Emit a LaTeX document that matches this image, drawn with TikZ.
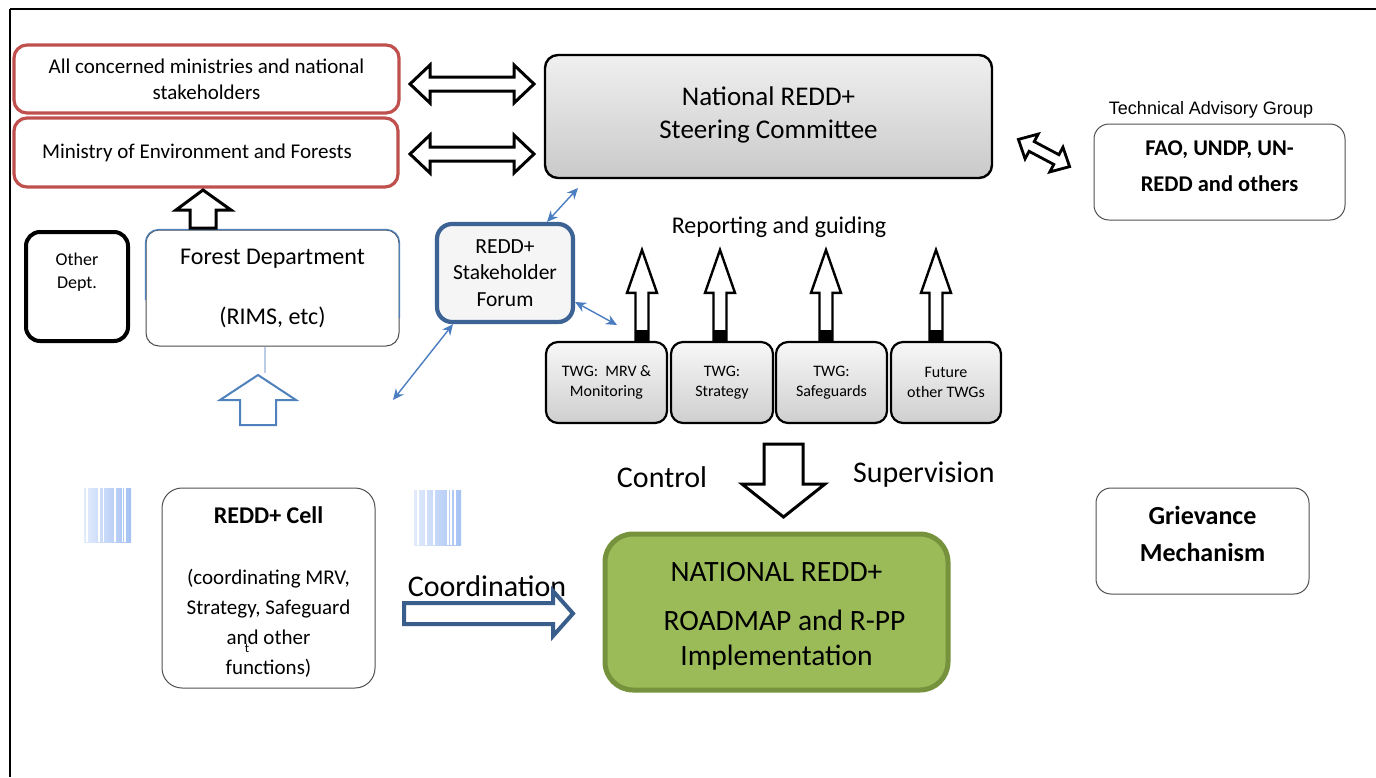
\documentclass[tikz,border=0pt]{standalone}
\usepackage{fontspec}
\setmainfont{Carlito}
\newfontfamily\arialfont{Liberation Sans}
\usetikzlibrary{arrows.meta}
\definecolor{redb}{RGB}{192,80,77}
\definecolor{forumb}{RGB}{60,99,148}
\definecolor{lblue}{RGB}{74,126,193}
\definecolor{fdblue}{RGB}{79,129,189}
\definecolor{gfill}{RGB}{155,187,89}
\definecolor{gdraw}{RGB}{118,146,60}
\definecolor{coordb}{RGB}{58,94,140}
\definecolor{paleblue}{RGB}{185,205,229}
\definecolor{stripeL}{RGB}{226,235,252}
\definecolor{stripeR}{RGB}{165,194,244}
\definecolor{boxgray}{RGB}{80,80,80}
\begin{document}
\begin{tikzpicture}[x=1pt,y=-1pt,
  every node/.style={inner sep=0pt, align=center},
  redbox/.style={draw=redb, line width=3.2pt, rounded corners=13pt, font=\fontsize{21}{26}\selectfont},
  graybox/.style={draw=black, line width=2.4pt, rounded corners=13pt, top color=gray!12, bottom color=gray!42},
  twgbox/.style={draw=black, line width=2.2pt, rounded corners=12pt, top color=gray!6, bottom color=gray!38, minimum height=81pt, font=\fontsize{16}{20}\selectfont},
  thinbox/.style={draw=boxgray, line width=1pt, rounded corners=15pt},
  hollow/.style={draw=black, fill=white, line width=3pt, line join=miter, miter limit=10},
  bluelink/.style={draw=lblue, line width=1.4pt, {Stealth[length=11pt,width=10pt]}-{Stealth[length=11pt,width=10pt]}},
  bigtxt/.style={font=\fontsize{30}{36}\selectfont},
  twgarrow/.pic={
    \draw[hollow, line width=2.4pt] (-6.5,0) -- (-6.5,-48) -- (-15,-48) -- (0,-91) -- (15,-48) -- (6.5,-48) -- (6.5,0) -- cycle;
    \fill[black] (-6.5,-11) rectangle (6.5,0);
  },
  dblarrow/.pic={
    \draw[hollow] (-62,0) -- (-42,-19) -- (-42,-7) -- (42,-7) -- (42,-19) -- (62,0) -- (42,19) -- (42,7) -- (-42,7) -- (-42,19) -- cycle;
  }
]
\useasboundingbox (0,0) rectangle (1376,777);
\fill[white] (0,0) rectangle (1376,777);
% frame
\draw[line width=2.2pt] (10,9) -- (1376,9);
\draw[line width=2.2pt] (10,9) -- (10,777);

% left column
\node[redbox, minimum width=385pt, minimum height=68pt] (allmin) at (206.5,79) {All concerned ministries and national\\stakeholders};
\node[redbox, minimum width=384pt, minimum height=69pt] (moef) at (206,152.5) {Ministry of Environment and Forests\hspace*{18pt}};

\node[draw=black, line width=4pt, rounded corners=14pt, minimum width=102pt, minimum height=109pt, font=\fontsize{18}{23}\selectfont, text depth=32pt] (other) at (77,286.5) {Other\\Dept.};

\node[draw=black!70, line width=1pt, rounded corners=13pt, minimum width=253pt, minimum height=116pt, font=\fontsize{24}{26}\selectfont] (fd) at (272.5,288) {Forest Department\\[34pt](RIMS, etc)};
\draw[fdblue, line width=1.2pt, rounded corners=13pt] ([yshift=-12pt]fd.west) -- (fd.north west) -- (fd.north east) -- ([yshift=-30pt]fd.east);
\draw[paleblue, line width=1.5pt] ([xshift=-7.5pt]fd.south) -- ++(0,26);

% block arrows on the left
\draw[hollow] (190,228) -- (190,210) -- (176,210) -- (203,190) -- (231,210) -- (216,210) -- (216,228) -- cycle;
\draw[hollow, draw=fdblue, line width=2pt] (240,425) -- (240,400) -- (220,400) -- (258,375) -- (296,400) -- (276,400) -- (276,425) -- cycle;
\pic at (472,84) {dblarrow};
\pic at (472,154) {dblarrow};

% steering committee
\node[graybox, minimum width=447pt, minimum height=123pt, font=\fontsize{27}{33}\selectfont, text depth=8pt] (steer) at (768.5,116.5) {National REDD+\\Steering Committee};

% technical advisory group
\node[font=\arialfont\fontsize{18}{22}\selectfont] (taglbl) at (1211,110) {Technical Advisory Group};
\node[thinbox, minimum width=251pt, minimum height=96pt, font=\bfseries\fontsize{22.5}{36}\selectfont, text depth=12pt] (tag) at (1219.5,172) {FAO, UNDP, UN-\\REDD and others};
\begin{scope}[shift={(1044,153)}, rotate=-28]
  \draw[hollow, line width=2.8pt] (-29,0) -- (-14,-14) -- (-14,-5.5) -- (14,-5.5) -- (14,-14) -- (29,0) -- (14,14) -- (14,5.5) -- (-14,5.5) -- (-14,14) -- cycle;
\end{scope}

% forum
\node[draw=forumb, fill=gray!8, line width=4.2pt, rounded corners=15pt, minimum width=136pt, minimum height=98pt, font=\fontsize{21.5}{26.5}\selectfont] (forum) at (505,273) {REDD+\\Stakeholder\\Forum};
\coordinate (fa) at (578,188);
\coordinate (fb) at (617,325);
\coordinate (fc) at (393,400);
\draw[bluelink] ([xshift=42pt]forum.north) -- (fa);
\draw[bluelink] ([yshift=-29pt]forum.east) -- (fb);
\draw[bluelink] ([xshift=-52pt]forum.south) -- (fc);

% reporting
\node[font=\fontsize{24}{28}\selectfont] (rep) at (779,227) {Reporting and guiding};

% TWGs
\node[twgbox, minimum width=121pt] (twg1) at (606.5,382.5) {TWG:\ \ MRV \&\\Monitoring};
\node[twgbox, minimum width=102pt] (twg2) at (722,382.5) {TWG:\\Strategy};
\node[twgbox, minimum width=111pt] (twg3) at (831.5,382.5) {TWG:\\Safeguards};
\node[twgbox, minimum width=110pt] (twg4) at (946,382.5) {Future\\other TWGs};
\pic at ([xshift=35.5pt]twg1.north) {twgarrow};
\pic at ([xshift=-2pt]twg2.north) {twgarrow};
\pic at ([xshift=-5.5pt]twg3.north) {twgarrow};
\pic at ([xshift=-10pt]twg4.north) {twgarrow};

% control arrow
\draw[hollow] (764,444) -- (803,444) -- (803,484) -- (825,484) -- (783.5,517) -- (742,484) -- (764,484) -- cycle;
\node[bigtxt] (ctrl) at (662,477) {Control};
\node[bigtxt] (sup) at (924,475) {Supervision};

% green implementation box
\node[draw=gdraw, fill=gfill, line width=5pt, rounded corners=28pt, minimum width=343pt, minimum height=156pt, font=\fontsize{29.5}{35}\selectfont] (green) at (776.5,612) {\rule{0pt}{27pt}NATIONAL REDD+\\[14pt]\hspace*{16pt}ROADMAP and R-PP\\Implementation};

% coordination
\node[bigtxt] (coordlbl) at (487,586) {Coordination};
\draw[hollow, draw=coordb, line width=4pt] (404,603) -- (553,603) -- (553,591) -- (573,613.5) -- (553,636) -- (553,624) -- (404,624) -- cycle;

% decorative striped blocks
\shade[left color=stripeL, right color=stripeR] (84,488) rectangle (131,542);
\foreach \xx in {87,99,103.5,115,122.5,125}{\draw[white, line width=1.2pt] (\xx,488) -- (\xx,542);}
\shade[left color=stripeL, right color=stripeR] (414,490) rectangle (461,545);
\foreach \xx in {418,426,434,448,451,455}{\draw[white, line width=1.2pt] (\xx,490) -- (\xx,545);}

% REDD+ cell
\node[thinbox, rounded corners=20pt, minimum width=213pt, minimum height=200pt, font=\fontsize{21}{30}\selectfont] (cell) at (268.5,588) {\rule{0pt}{24pt}{\bfseries\fontsize{24}{30}\selectfont REDD+ Cell}\\[31pt](coordinating MRV,\\Strategy, Safeguard\\and other\\functions)};
\node[font=\fontsize{13}{15}\selectfont] (stray) at (247,648) {t};

% grievance
\node[thinbox, minimum width=213pt, minimum height=106pt, font=\bfseries\fontsize{26}{37}\selectfont, text depth=15pt] (griev) at (1202.5,541) {Grievance\\Mechanism};
\end{tikzpicture}
\end{document}
